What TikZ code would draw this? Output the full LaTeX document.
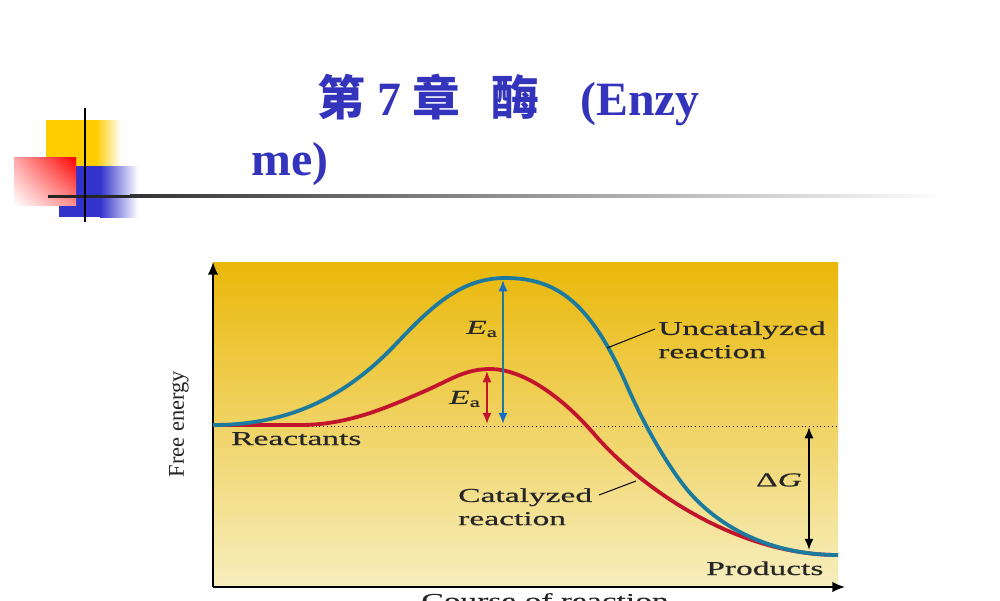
\documentclass[tikz,border=0pt]{standalone}
\usepackage{fontspec}
\setmainfont{Liberation Serif}
\newfontfamily\cjk{Noto Sans CJK SC}
\newfontfamily\lblfont[FakeStretch=1.7,FakeBold=0.6]{Liberation Serif}
\usetikzlibrary{arrows.meta,shadings}

\definecolor{titleblue}{RGB}{51,51,187}
\definecolor{decoyellow}{RGB}{255,204,0}
\definecolor{decoblue}{RGB}{51,51,204}
\definecolor{plottop}{RGB}{234,184,10}
\definecolor{plotbot}{RGB}{247,238,190}
\definecolor{uncat}{RGB}{28,122,158}
\definecolor{cat}{RGB}{195,20,45}
\definecolor{eahead}{RGB}{20,110,200}

\begin{document}
\begin{tikzpicture}[x=0.025cm, y=-0.025cm, >=Latex,
    lbl/.style={font=\lblfont\fontsize{14}{16.5}\selectfont, text=black!85, inner sep=0pt, align=left},
    titletxt/.style={font=\bfseries\fontsize{34}{40}\selectfont, text=titleblue, inner sep=0pt, anchor=base west},
    leader/.style={black, line width=0.7pt},
    energy/.style={line width=2.7pt, line join=round},
    eaarr/.style={{Latex[length=8pt,width=6.5pt]}-{Latex[length=8pt,width=6.5pt]}, line width=1.3pt}]
  \path[use as bounding box, clip] (0,0) rectangle (1000,600);

  % 1. 左上角装饰方块与分隔线
  \fill[decoyellow] (46,120) rectangle (96,182);
  \shade[left color=decoyellow, right color=white] (96,120) rectangle (121,182);
  \fill[decoblue] (59,166) rectangle (100,217);
  \shade[left color=decoblue, right color=white] (100,166) rectangle (138,217);
  \shade[upper left=red!35, upper right=red, lower left=white, lower right=red!45] (14,157) rectangle (76,205);
  \fill[black!85] (48,194.5) rectangle (130,197.5);
  \shade[left color=black!80, right color=white] (130,194.5) rectangle (945,197.5);
  \draw[line width=1.8pt] (85,108) -- (85,222);

  % 2. 标题 (两行)
  \node[titletxt] (ttl1) at (317,115) {{\cjk 第} 7 {\cjk 章}};
  \node[titletxt] (ttl2) at (491,115) {{\cjk 酶}};
  \node[titletxt] (ttl3) at (580,115) {(Enzy};
  \node[titletxt] (ttl4) at (251,175) {me)};

  % 3. 背景渐变与坐标轴
  \shade[top color=plottop, bottom color=plotbot] (213,262) rectangle (838,587);
  \coordinate (O) at (213,587);
  \coordinate (ytip) at (213,262);
  \coordinate (xtip) at (845,587);
  \draw[dotted, line width=0.7pt] (213,426) -- (838,426);
  \draw[line width=1.3pt, -{Latex[length=9pt,width=7.5pt]}] (O) -- (ytip);
  \draw[line width=1.3pt, -{Latex[length=9pt,width=7.5pt]}] (O) -- (xtip);
  \node[font=\fontsize{16}{18}\selectfont, text=black!85, rotate=90, inner sep=0pt] (fe) at (179,424) {Free energy};
  \node[lbl, anchor=base] (cor) at (545,607) {Course of reaction};

  % 4. 两条能量曲线 (分段三次曲线)
  \draw[cat, energy] (213,425) -- (300,425)
    .. controls (350,425) and (390,406) .. (425,391)
    .. controls (450,380) and (465,369) .. (490,369)
    .. controls (525,369) and (565,400) .. (595,435)
    .. controls (640,487) and (735,555) .. (838,555);
  \draw[uncat, energy] (213,425)
    .. controls (295,425) and (350,392) .. (395,345)
    .. controls (430,308) and (460,278) .. (505,278)
    .. controls (555,278) and (590,300) .. (628,388)
    .. controls (645,427) and (670,470) .. (690,493)
    .. controls (720,527) and (770,555) .. (838,555);

  % 5. 活化能与 ΔG 箭头
  \coordinate (peakU) at (503,280);
  \coordinate (baseU) at (503,424);
  \coordinate (peakC) at (487,371);
  \coordinate (baseC) at (487,424);
  \coordinate (dgTop) at (809,427);
  \coordinate (dgBot) at (809,550);
  \draw[eaarr, uncat, {Latex[length=8pt,width=6.5pt,color=eahead]}-{Latex[length=8pt,width=6.5pt,color=eahead]}] (peakU) -- (baseU);
  \draw[eaarr, cat] (peakC) -- (baseC);
  \draw[eaarr, black] (dgTop) -- (dgBot);

  % 6. 文字标注
  \node[lbl] (eaU) at (482,329) {\textit{E}\textsubscript{a}};
  \node[lbl] (eaC) at (465,399) {\textit{E}\textsubscript{a}};
  \node[lbl] (dg) at (779,480) {Δ\textit{G}};
  \node[lbl, anchor=base west] (react) at (231,445) {Reactants};
  \node[lbl, anchor=base west] (prod) at (706,575) {Products};
  \node[lbl, anchor=north west] (unc) at (658,321) {Uncatalyzed\\reaction};
  \node[lbl, anchor=north west] (catl) at (458,488) {Catalyzed\\reaction};
  \coordinate (uncA) at (607,348);
  \coordinate (uncB) at (655,329);
  \draw[leader] (uncA) -- (uncB);
  \coordinate (catA) at (599,495);
  \coordinate (catB) at (636,481);
  \draw[leader] (catA) -- (catB);
\end{tikzpicture}
\end{document}
